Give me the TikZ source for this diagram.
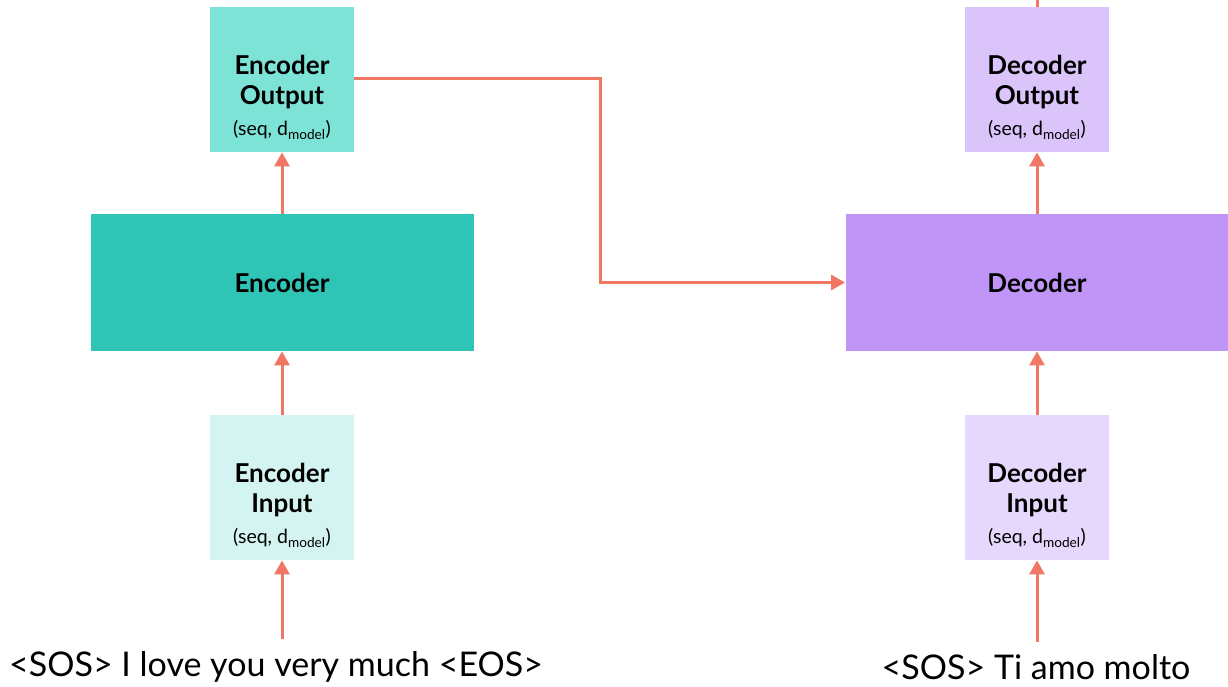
\documentclass[tikz,border=0pt]{standalone}
\usepackage{fontspec}
\setmainfont{Lato}
\usetikzlibrary{arrows.meta,positioning}

\definecolor{encdark}{HTML}{2EC4B6}
\definecolor{encmid}{HTML}{7DE3D7}
\definecolor{enclight}{HTML}{D3F4F0}
\definecolor{decdark}{HTML}{C195F7}
\definecolor{decmid}{HTML}{DBC4FA}
\definecolor{declight}{HTML}{E6D7FC}
\definecolor{arrowred}{HTML}{F07763}

\newcommand{\shapetag}{{\mdseries\fontsize{19.5}{22}\selectfont (seq, d\textsubscript{model})}}

\begin{document}
\begin{tikzpicture}[x=1pt, y=-1pt, thick,
    small/.style = {minimum width=144pt, minimum height=145pt, inner sep=0pt},
    big/.style = {minimum width=383pt, minimum height=137pt, inner sep=0pt, font=\fontsize{26}{30}\selectfont\bfseries},
    boxtext/.style = {align=center, font=\fontsize{26}{30}\selectfont\bfseries},
    conn/.style = {draw=arrowred, line width=3pt, -{Triangle[width=15pt,length=14pt]}},
    sentence/.style = {font=\fontsize{34}{38}\selectfont, inner sep=0pt}]
    \useasboundingbox (0,0) rectangle (1228,686);

    % encoder side
    \node[small, fill=encmid] (encout) at (282,79.5) {};
    \node[big, fill=encdark] (enc) at (282,282.5) {Encoder};
    \node[small, fill=enclight] (encin) at (282,487.5) {};
    \node[boxtext] (encouttext) at ([yshift=-18pt]encout.center) {Encoder\\Output\\[1pt]\shapetag};
    \node[boxtext] (encintext) at ([yshift=-18pt]encin.center) {Encoder\\Input\\[1pt]\shapetag};
    \node[sentence] (srcsent) at (276,667) {<SOS> I love you very much <EOS>};

    % decoder side
    \node[small, fill=decmid] (decout) at (1037,79.5) {};
    \node[big, fill=decdark] (dec) at (1037,282.5) {Decoder};
    \node[small, fill=declight] (decin) at (1037,487.5) {};
    \node[boxtext] (decouttext) at ([yshift=-18pt]decout.center) {Decoder\\Output\\[1pt]\shapetag};
    \node[boxtext] (decintext) at ([yshift=-18pt]decin.center) {Decoder\\Input\\[1pt]\shapetag};
    \node[sentence] (tgtsent) at (1036,667) {<SOS> Ti amo molto};
    \coordinate (top) at (1037,0);
    \coordinate (bend) at (600,78);

    \draw[conn, shorten <=12pt] (encin.south |- srcsent.north) -- (encin.south);
    \draw[conn] (encin.north) -- (enc.south);
    \draw[conn] (enc.north) -- (encout.south);
    \draw[conn] (encout.east |- bend) -- (bend) |- (dec.west);

    \draw[conn, shorten <=12pt] (decin.south |- tgtsent.north) -- (decin.south);
    \draw[conn] (decin.north) -- (dec.south);
    \draw[conn] (dec.north) -- (decout.south);
    \draw[draw=arrowred, line width=3pt] (decout.north) -- (top);
\end{tikzpicture}
\end{document}
